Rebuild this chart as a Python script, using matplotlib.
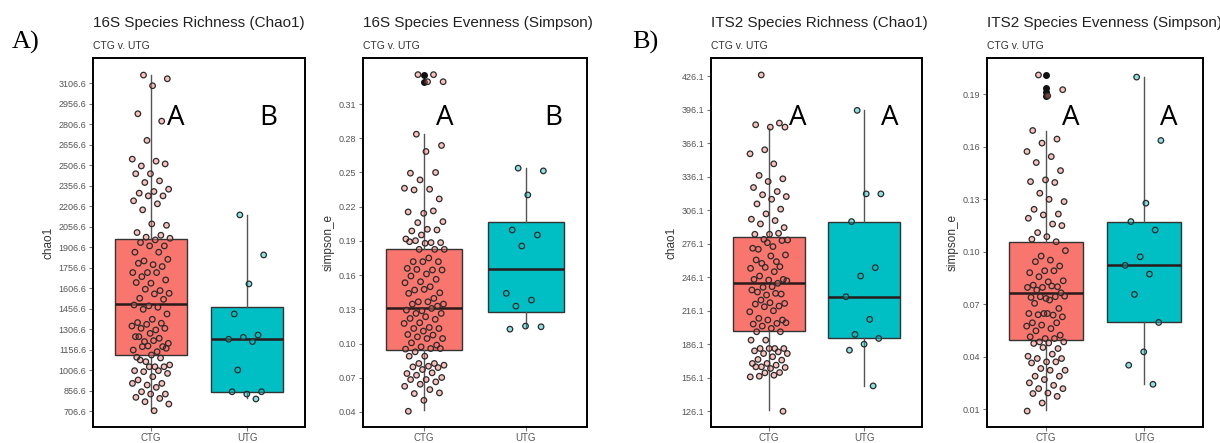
import numpy as np
import matplotlib
matplotlib.use('Agg')
import matplotlib.pyplot as plt

# valores (CTG / UTG por panel)
grupos = ['CTG', 'UTG']
colores = ['#F8766D', '#00BFC4']

chao_16s_ctg = [3165, 3138, 3087, 2882, 2828, 2687, 2550, 2535, 2500, 2515, 2443, 2443, 2391, 2379,
                2330, 2313, 2301, 2281, 2281, 2245, 2223, 2179, 2066, 2076, 2013, 1993, 1979, 1971,
                1959, 1940, 1915, 1915, 1869, 1869, 1805, 1817, 1778, 1788, 1764, 1720, 1720, 1720,
                1690, 1666, 1642, 1647, 1588, 1598, 1568, 1564, 1532, 1524, 1476, 1483, 1466, 1451,
                1417, 1378, 1354, 1349, 1341, 1329, 1300, 1312, 1312, 1275, 1251, 1239, 1215, 1202,
                1222, 1251, 1178, 1183, 1153, 1141, 1178, 1166, 1117, 1100, 1095, 1068, 1044, 1031,
                1080, 1031, 1031, 1002, 1002, 995, 982, 958, 934, 909, 897, 909, 880, 848, 831, 831,
                807, 799, 775, 758, 709]
chao_16s_utg = [2142, 1849, 1637, 1417, 1263, 1246, 1232, 1215, 1007, 848, 831, 848, 795]

simp_16s_ctg = [0.2836, 0.2737, 0.2684, 0.2494, 0.2500, 0.2435, 0.2362, 0.2353, 0.2347, 0.2268,
                0.2142, 0.2154, 0.2163, 0.2060, 0.2069, 0.2002, 0.1987, 0.1996, 0.1952, 0.1917,
                0.1885, 0.1902, 0.1885, 0.1879, 0.1893, 0.1826, 0.1826, 0.1826, 0.1750, 0.1718,
                0.1718, 0.1718, 0.1659, 0.1645, 0.1650, 0.1645, 0.1610, 0.1592, 0.1563, 0.1542,
                0.1533, 0.1498, 0.1469, 0.1445, 0.1475, 0.1440, 0.1396, 0.1366, 0.1346, 0.1366,
                0.1346, 0.1328, 0.1287, 0.1293, 0.1308, 0.1264, 0.1264, 0.1235, 0.1220, 0.1212,
                0.1182, 0.1176, 0.1141, 0.1132, 0.1132, 0.1109, 0.1079, 0.1074, 0.1059, 0.1044,
                0.1044, 0.1006, 0.0986, 0.0971, 0.0951, 0.0956, 0.0927, 0.0956, 0.0889, 0.0889,
                0.0825, 0.0825, 0.0810, 0.0801, 0.0795, 0.0789, 0.0772, 0.0737, 0.0743, 0.0722,
                0.0702, 0.0684, 0.0684, 0.0664, 0.0643, 0.0625, 0.0596, 0.0561, 0.0567, 0.0502,
                0.0406, 0.3358, 0.3358, 0.3296, 0.3296]
simp_16s_utg = [0.2538, 0.2514, 0.2303, 0.1996, 0.1952, 0.1855, 0.1440, 0.1381, 0.1328, 0.1147,
                0.1153, 0.1126]

chao_its_ctg = [427.3, 380.6, 380.6, 382.7, 384.2, 360.3, 356.7, 347.7, 337.3, 334.3, 331.9, 326.5,
                322.9, 320.0, 318.4, 316.0, 311.8, 307.1, 302.9, 298.1, 296.9, 293.9, 290.6, 284.6,
                284.6, 285.5, 280.1, 279.5, 273.6, 271.2, 279.0, 277.1, 272.1, 260.1, 258.6, 266.1,
                265.2, 261.6, 255.6, 255.0, 254.1, 251.1, 247.2, 244.2, 243.6, 244.2, 240.7, 237.1,
                243.0, 237.7, 232.9, 231.1, 230.2, 234.7, 231.7, 225.7, 222.7, 223.3, 222.1, 220.3,
                219.7, 215.2, 216.1, 209.3, 207.8, 207.8, 204.2, 204.8, 202.4, 205.4, 200.3, 197.3,
                197.3, 189.8, 189.8, 182.3, 182.3, 182.3, 182.3, 180.2, 179.3, 177.8, 177.8, 174.9,
                172.5, 171.9, 168.9, 168.9, 167.4, 165.9, 165.3, 164.4, 165.9, 160.8, 160.5, 156.9,
                158.4, 157.5, 126.1]
chao_its_utg = [395.6, 320.8, 320.8, 296.0, 254.7, 247.2, 228.7, 208.4, 194.9, 191.3, 186.2, 180.8,
                148.8]

simp_its_ctg = [0.2009, 0.1925, 0.1890, 0.1692, 0.1643, 0.1620, 0.1572, 0.1543, 0.1509, 0.1463,
                0.1410, 0.1400, 0.1395, 0.1334, 0.1286, 0.1299, 0.1242, 0.1215, 0.1210, 0.1191,
                0.1158, 0.1109, 0.1149, 0.1086, 0.1071, 0.1057, 0.0975, 0.1006, 0.0952, 0.0943,
                0.0918, 0.0891, 0.0880, 0.0891, 0.0857, 0.0834, 0.0828, 0.0809, 0.0800, 0.0796,
                0.0796, 0.0804, 0.0781, 0.0765, 0.0733, 0.0739, 0.0743, 0.0743, 0.0746, 0.0724,
                0.0705, 0.0676, 0.0647, 0.0647, 0.0638, 0.0640, 0.0628, 0.0647, 0.0594, 0.0594,
                0.0581, 0.0575, 0.0561, 0.0548, 0.0523, 0.0504, 0.0514, 0.0504, 0.0485, 0.0485,
                0.0479, 0.0476, 0.0447, 0.0453, 0.0403, 0.0415, 0.0390, 0.0390, 0.0371, 0.0365,
                0.0371, 0.0333, 0.0323, 0.0323, 0.0289, 0.0289, 0.0270, 0.0251, 0.0237, 0.0218,
                0.0218, 0.0193, 0.0190, 0.0174, 0.0136, 0.0090]
simp_its_utg = [0.1997, 0.1635, 0.1277, 0.1172, 0.1124, 0.0971, 0.0922, 0.0872, 0.0756, 0.0596,
                0.0428, 0.0352, 0.0243]

# estadisticos de las cajas: q1, mediana, q3, bigote inf, bigote sup
cajas = {
    '16s_chao': [(1116, 1487, 1967, 714, 3165), (848, 1233, 1470, 802, 2141)],
    '16s_simp': [(0.0942, 0.1308, 0.1826, 0.0415, 0.2836), (0.1279, 0.1650, 0.2069, 0.1147, 0.2538)],
    'its_chao': [(197.9, 240.7, 282.5, 127.6, 379.7), (191.3, 228.7, 295.7, 148.8, 395.6)],
    'its_simp': [(0.0495, 0.0765, 0.1053, 0.0094, 0.1690), (0.0596, 0.0924, 0.1172, 0.0247, 0.1997)],
}
# outliers negros del boxplot (CTG)
fliers = {
    '16s_chao': [],
    '16s_simp': [0.3358, 0.3296],
    'its_chao': [],
    'its_simp': [0.2009, 0.1934, 0.1910, 0.1887],
}

titulos = ['16S Species Richness (Chao1)', '16S Species Evenness (Simpson)',
           'ITS2 Species Richness (Chao1)', 'ITS2 Species Evenness (Simpson)']
ylabels = ['chao1', 'simpson_e', 'chao1', 'simpson_e']
letras = [('A', 'B'), ('A', 'B'), ('A', 'A'), ('A', 'A')]

paneles = [
    ('16s_chao', chao_16s_ctg, chao_16s_utg, np.arange(706.6, 3106.7, 150), '%.1f', (590, 3290), 2850),
    ('16s_simp', simp_16s_ctg, simp_16s_utg, np.arange(0.04, 0.311, 0.03), '%.2f', (0.0268, 0.3504), 0.2978),
    ('its_chao', chao_its_ctg, chao_its_utg, np.arange(126.1, 426.2, 30), '%.1f', (112.0, 442.5), 388.7),
    ('its_simp', simp_its_ctg, simp_its_utg, np.arange(0.01, 0.191, 0.03), '%.2f', (-0.0001, 0.2106), 0.1763),
]
letra_x = [(1.26, 2.22), (1.20, 2.27), (1.30, 2.26), (1.25, 2.25)]

# posiciones de los ejes en pixeles (izq, der)
W, H = 1220, 443
ejes_px = [(93, 305), (363, 587), (711, 922), (987, 1203)]
top_px, bot_px = 58, 427

fig = plt.figure(figsize=(W / 100, H / 100), dpi=100)
plt.rcParams['font.family'] = ['Liberation Sans', 'DejaVu Sans']


def jitter(n, ancho=0.2):
    # secuencia determinista (proporcion aurea) para separar los puntos
    return ((np.arange(n) * 0.6180339887 + 0.31) % 1.0 - 0.5) * 2 * ancho


for i, (clave, ctg, utg, ticks, fmt, ylim, ytxt) in enumerate(paneles):
    x0, x1 = ejes_px[i]
    ax = fig.add_axes([x0 / W, (H - bot_px) / H, (x1 - x0) / W, (bot_px - top_px) / H])

    stats = []
    for g, (q1, med, q3, lo, hi) in enumerate(cajas[clave]):
        stats.append(dict(q1=q1, med=med, q3=q3, whislo=lo, whishi=hi,
                          fliers=fliers[clave] if g == 0 else []))
    bp = ax.bxp(stats, positions=[1, 2], widths=0.75, patch_artist=True, showcaps=False,
                boxprops=dict(edgecolor='#333333', linewidth=1.0),
                whiskerprops=dict(color='#555555', linewidth=1.0),
                medianprops=dict(color='#2a1a1a', linewidth=1.8),
                flierprops=dict(marker='o', markerfacecolor='#111111', markeredgecolor='#111111',
                                markersize=4.0))
    for patch, c in zip(bp['boxes'], colores):
        patch.set_facecolor(c)

    for g, vals in enumerate([ctg, utg]):
        vals = np.array(vals)
        xs = (g + 1) + jitter(len(vals))
        ax.scatter(xs, vals, s=16, facecolor=colores[g], alpha=0.45, edgecolor='none', zorder=3)
        ax.scatter(xs, vals, s=16, facecolor='none', edgecolor='#2b2b2b', linewidth=0.9, zorder=4)

    for g, txt in enumerate(letras[i]):
        ax.text(letra_x[i][g], ytxt, txt, fontsize=20, family=['Open Sans', 'DejaVu Sans'],
                ha='center', va='center', color='black', zorder=5)

    ax.set_xlim(0.4, 2.6)
    ax.set_ylim(*ylim)
    ax.set_xticks([1, 2])
    ax.set_xticklabels(grupos)
    ax.set_yticks(ticks)
    ax.set_yticklabels([fmt % t for t in ticks])
    ax.tick_params(axis='both', colors='#777777', labelcolor='#555555', labelsize=6.5,
                   length=3, width=0.8, pad=2)
    ax.tick_params(axis='x', labelsize=7, pad=1.5)
    for sp in ax.spines.values():
        sp.set_color('black')
        sp.set_linewidth(1.4)
    ax.set_ylabel(ylabels[i], fontsize=8.5, color='#333333', labelpad=3)

    ax.text(0, 1.02, 'CTG v. UTG', transform=ax.transAxes, fontsize=7.5, color='#333333',
            ha='left', va='bottom')
    ax.text(0, 1.075, titulos[i], transform=ax.transAxes, fontsize=11, color='#222222',
            ha='left', va='bottom')

fig.text(12 / W, 1 - 42 / H, 'A)', fontsize=19, family=['Liberation Serif', 'DejaVu Serif'],
         ha='left', va='center')
fig.text(632 / W, 1 - 42 / H, 'B)', fontsize=19, family=['Liberation Serif', 'DejaVu Serif'],
         ha='left', va='center')

fig.savefig('out.png', dpi=100)
